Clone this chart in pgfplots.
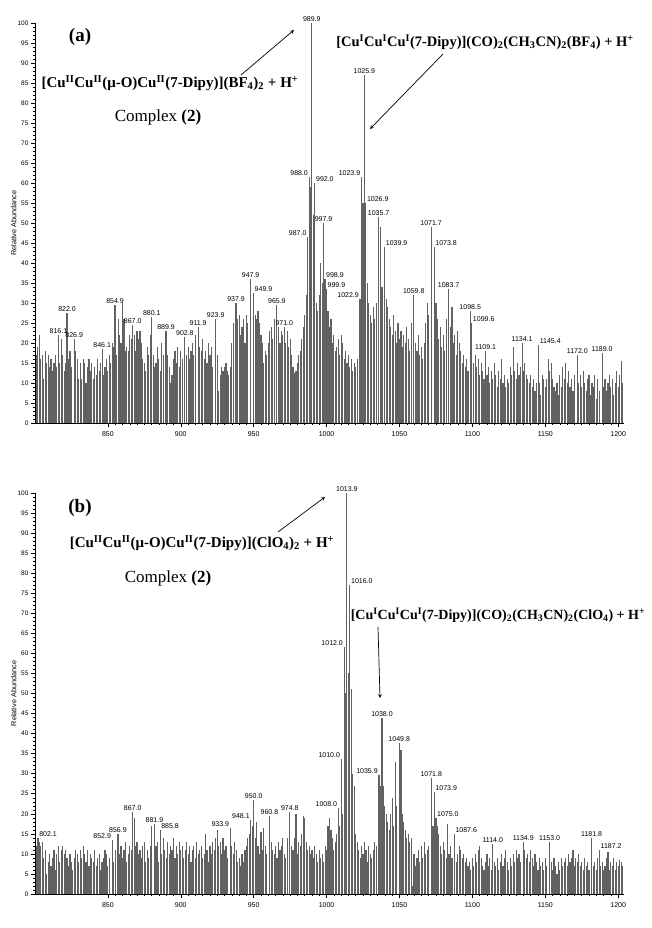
\documentclass[border=0pt]{standalone}
\usepackage{fontspec}
\setmainfont{Liberation Serif}
\setsansfont{Liberation Sans}
\usepackage{pgfplots}
\pgfplotsset{compat=1.18}
\usepackage{pgfplotstable}

\pgfplotstableread{
x y
801 17
802 19
803 22
804 16
805 17
806 11
807 18
808 15
809 17
810 14
811 16
812 13
813 15
814 17
815 14
816.1 22
817 15
818 21
819 17
820 13
821 15
822.0 27.5
823 16
824 18
825 14
826.9 21
828 18
829 16
830 11
831 15
832 11
833 16
834 15
835 10
836 14
837 16
838 13
839 15
840 11
841 14
842 12
843 16
844 13
845 15
846.1 18.5
847 12
848 14
849 16
850 13
851 17
852 15
853 20
854 19
854.9 29.5
856 17
857 26
858 22
859 20
860 30
861 26
862 18
863 19
864 18
865 22
866 21
867.0 24.5
868 22
869 18
870 23
871 21
872 23
873 20
874 16
875 15
876 13
877 19
878 17
879 22
880.1 26.5
881 17
882 14
883 15
884 19
885 16
886 13
887 20
888 17
889.9 23
891 17
892 14
893 10
894 12
895 16
896 18
897 15
898 19
899 14
900 18
901 16
902.8 21.5
904 17
905 19
906 16
907 18
908 20
909 17
910 22
911.9 24
913 19
914 18
915 21
916 16
917 18
918 15
919 20
920 17
921 19
922 14
923.9 26
925 17
926 8
927 12
928 14
929 13
930 14
931 15
932 13
933 12
934 14
935 20
936 25
937.9 30
939 26
940 27
941 22
942 24
943 26
944 20
945 27
946 25
947.9 36
949.9 32.5
951 27
952 26
953 28
954 25
955 22
956 20
957 15
958 18
959 17
960 20
961 23
962 24
963 21
964 26
965.9 29.5
967 24
968 20
969 23
970 22
971.0 24
972 20
973 23
974 19
975 21
976 17
977 14
978 12.5
979 13
980 15
981 17
982 18
983 21
984 24
985 27
986 32
987.0 46.5
988.0 61.5
988.9 59
989.9 100
991 52
992.0 60
993 30
994 28
995 32
996 40
997 35
997.9 50
998.9 36
999.9 33.5
1001 28
1002 24
1003 26
1004 20
1005 22
1006 18
1007 19
1008 21
1009 17
1010 22
1011 20
1012 16
1013 18
1014 15
1015 17
1016 14
1017 16
1018 13
1019 15
1020 14
1021 16
1022.9 31
1023.9 61.5
1025 55
1025.9 87
1026.9 55
1028 35
1029 30
1030 27
1031 25
1032 29
1033 26
1034 30
1035.7 51.5
1037 49
1038 34
1039.9 44
1041 31
1042 29
1043 26
1044 24
1045 22
1046 27
1047 23
1048 20
1049 25
1050 21
1051 23
1052 19
1053 22
1054 20
1055 24
1056 21
1057 18
1058 25
1059.8 32
1061 20
1062 18
1063 22
1064 17
1065 19
1066 16
1067 20
1068 25
1069 30
1070 27
1071.7 49
1073.8 44
1075 30
1076 26
1077 21
1078 24
1079 19
1080 22
1081 18
1082 26
1083.7 33.5
1085 24
1086 29
1087 20
1088 22
1089 17
1090 23
1091 20
1092 18
1093 15
1094 17
1095 14
1096 16
1097 13
1098.5 28
1099.6 25
1101 15
1102 17
1103 14
1104 16
1105 12
1106 15
1107 13
1108 11
1109.1 18
1110 12
1111 14
1112 10
1113 13
1114 11
1115 15
1116 12
1117 9
1118 13
1119 11
1120 16
1121 10
1122 12
1123 9
1124 11
1125 10
1126 14
1127 12
1128 19
1129 13
1130 11
1131 15
1132 12
1133 14
1134.1 20
1135 13
1136 15
1137 12
1138 11
1139 10
1140 12
1141 9
1142 11
1143 8
1144 10
1145.4 19.5
1146 10
1147 7
1148 12
1149 11
1150 9
1151 11
1152 16
1153 13
1154 15
1155 11
1156 9
1157 8
1158 10
1159 7
1160 12
1161 9
1162 14
1163 11
1164 15
1165 10
1166 13
1167 9
1168 11
1169 8
1170 12
1172.0 17
1173 10
1174 12
1175 9
1176 13
1177 10
1178 8
1179 11
1180 12
1181 7
1182 10
1183 9
1184 12
1185 6
1186 11
1187 8
1189.0 17.5
1190 9
1191 11
1192 8
1193 10
1194 12
1195 9
1196 11
1197 7
1198 10
1199 13
1200 9
1201 12
1202 15.5
1203 10
}\specA

\pgfplotstableread{
x y
801 12
802.1 14
803 13
804 12
805 13
806 9
807 11
808 5
809 8
810 10
811 7
812 9
813 11
814 6
815 10
816 12
817 8
818 11
819 12
820 10
821 11
822 9
823 7
824 10
825 8
826 6
827 9
828 11
829 10
830 8
831 11
832 9
833 12
834 10
835 8
836 11
837 7
838 10
839 9
840 8
841 11
842 7
843 9
844 10
845 6
846 8
847 9
848 11
849 10
850 7
851 9
852.9 13.5
854 8
855 11
856.9 15
858 10
859 12
860 9
861 11
862 13
863 8
864 10
865 12
866 11
867.0 20.5
868 19
869 12
870 13
871 10
872 11
873 9
874 12
875 13
876 8
877 11
878 9
879 12
880 17
881.9 17.5
883 12
884 13
885 8
885.8 16
887 10
888 14
889 11
890 9
891 13
892 10
893 12
894 11
895 14
896 9
897 12
898 10
899 13
900 11
901 12
902 9
903 11
904 13
905 10
906 12
907 8
908 11
909 12
910 9
911 13
912 10
913 11
914 12
915 9
916 10
917 15
918 11
919 8
920 12
921 10
922 13
923 11
924 14
925 16
926 12
927 13
928 10
929 14
930 11
931 12
932 9
933.9 16.5
935 12
936 10
937 13
938 11
939 8
940 9
941 7
942 10
943 8
944 11
945 12
946 14
947 15
948.1 18.5
949 17
950.0 23.5
951 14
952 18
953 12
954 10
955 15.5
956 11
957 16.5
958 12
959 10
960.8 19.5
962 13
963 11
964 10
965 12
966 9
967 13
968 11
969 12
970 14
971 10
972 9
973 14
974.8 20.5
976 12
977 11
978 14
979 20
980 10
981 13
982 12
983 15
984 19.5
985 19
986 13
987 11
988 12
989 10
990 11
991 9
992 12
993 10
994 8
995 11
996 9
997 10
998 8
999 12
1000 11
1001 17
1002 19
1003 16
1004 14
1005 11
1006 13
1007 15
1008.0 21.5
1009 17
1010.0 33.7
1011 20
1012.0 61.7
1013 50
1013.9 100
1015 55
1016.0 77
1017 51
1018 30
1019 27
1020 15
1021 13
1022 11
1023 9
1024 12
1025 10
1026 13
1027 11
1028 8
1029 12
1030 10
1031 9
1032 11
1033 13
1034 12
1035.9 29.7
1037 27
1038.0 44
1039 27
1040 22
1041 20
1042 18
1043 16
1044 20
1045 24
1046 17
1047 33
1048 22
1049.8 37.7
1051 36
1052 20
1053 18
1054 16
1055 14
1056 15
1057 13
1058 14
1059 2
1060 10
1061 7
1062 9
1063 11
1064 8
1065 12
1066 9
1067 13
1068 10
1069 11
1070 12
1071.8 29
1073 17
1073.9 25.5
1075.0 19
1076 17
1077 15
1078 12
1079 10
1080 13
1081 11
1082 9
1083 17.5
1084 10
1085 12
1086 9
1087.6 15
1089 8
1090 10
1091 12
1092 11
1093 9
1094 10
1095 8
1096 9
1097 7
1098 8
1099 6
1100 9
1101 7
1102 10
1103 8
1104 11
1105 12
1106 9
1107 7
1108 6
1109 8
1110 10
1111 7
1112 9
1113 6
1114.0 12.5
1115 8
1116 7
1117 9
1118 6
1119 8
1120 10
1121 7
1122 9
1123 11
1124 8
1125 6
1126 9
1127 7
1128 10
1129 8
1130 11
1131 9
1132 10
1133 8
1134.9 13
1136 11
1137 9
1138 10
1139 8
1140 11
1141 9
1142 7
1143 10
1144 8
1145 6
1146 9
1147 7
1148 8
1149 6
1150 9
1151 7
1153.0 13
1154 8
1155 6
1156 9
1157 7
1158 5
1159 8
1160 6
1161 9
1162 7
1163 8
1164 9
1165 7
1166 10
1167 8
1168 9
1169 11
1170 7
1171 9
1172 8
1173 10
1174 7
1175 8
1176 6
1177 9
1178 7
1179 8
1180 6
1181.8 14
1183 7
1184 8
1185 6
1186 9
1187.2 11
1188 7
1189 8
1190 6
1191 7
1192 9
1193 10.5
1194 6
1195 8
1196 7
1197 9
1198 6
1199 8
1200 7
1201 8.5
1202 8
1203 7
}\specB

\pgfplotsset{
  ms/.style={
    scale only axis, width=589pt,
    xmin=800, xmax=1204, ymin=0, ymax=100,
    axis lines*=left,
    xtick={850,900,...,1200}, ytick={0,5,...,100},
    minor x tick num=9, minor y tick num=4,
    tick align=outside, major tick length=4pt, minor tick length=2pt,
    xticklabel style={font=\sffamily\fontsize{7}{7}\selectfont, yshift=-1pt},
    yticklabel style={font=\sffamily\fontsize{6.5}{6.5}\selectfont, xshift=1pt},
    /pgf/number format/assume math mode=true,
    /pgf/number format/set thousands separator={},
    ylabel={Relative Abundance},
    ylabel style={font=\sffamily\fontsize{7.3}{8}\selectfont, at={(axis description cs:-0.036,0.5)}, anchor=center},
    clip=false,
    axis line style={black, line width=0.6pt},
    tick style={black, line width=0.5pt},
  },
}
\tikzset{pklab/.style={font=\sffamily\fontsize{7}{7}\selectfont, inner sep=1pt}}
\newcommand\pk[3][south]{\node[pklab,anchor=#1] at (axis cs:#2,#3) {#2};}

\begin{document}
\begin{tikzpicture}
\useasboundingbox (0,0) rectangle (651pt,928pt);

% ---------------- panel (a)
\begin{axis}[ms, height=400pt, at={(35pt,505pt)}, anchor=south west]
\addplot[ycomb, draw=black!62, line width=1.15pt, mark=none] table {\specA};
\pk{989.9}{100}
\pk{1025.9}{87}
\pk[south east]{988.0}{61.5}
\pk[south west]{992.0}{60}
\pk[south east]{987.0}{46.5}
\pk{997.9}{50}
\pk[south west]{998.9}{36}
\pk[south west]{999.9}{33.5}
\pk[south east]{1022.9}{31}
\pk[south east]{1023.9}{61.5}
\pk[south west]{1026.9}{55}
\pk{1035.7}{51.5}
\pk[south west]{1039.9}{44}
\pk{1059.8}{32}
\pk{1071.7}{49}
\pk[south west]{1073.8}{44}
\pk{1083.7}{33.5}
\pk{1098.5}{28}
\pk[south west]{1099.6}{25}
\pk{1109.1}{18}
\pk{1134.1}{20}
\pk[south west]{1145.4}{19.5}
\pk{1172.0}{17}
\pk{1189.0}{17.5}
\pk{947.9}{36}
\pk[south west]{949.9}{32.5}
\pk{937.9}{30}
\pk{965.9}{29.5}
\pk{971.0}{24}
\pk{923.9}{26}
\pk{911.9}{24}
\pk{902.8}{21.5}
\pk{889.9}{23}
\pk{880.1}{26.5}
\pk{867.0}{24.5}
\pk{854.9}{29.5}
\pk{846.1}{18.5}
\pk{826.9}{21}
\pk{822.0}{27.5}
\pk{816.1}{22}
\end{axis}

% ---------------- panel (b)
\begin{axis}[ms, height=401pt, at={(35pt,34pt)}, anchor=south west]
\addplot[ycomb, draw=black!62, line width=1.15pt, mark=none] table {\specB};
\pk{1013.9}{100}
\pk[south west]{1016.0}{77}
\pk[south east]{1012.0}{61.7}
\pk[south east]{1010.0}{33.7}
\pk[south east]{1008.0}{21.5}
\pk{1038.0}{44}
\pk{1049.8}{37.7}
\pk[south east]{1035.9}{29.7}
\pk{1071.8}{29}
\pk[south west]{1073.9}{25.5}
\pk[south west]{1075.0}{19}
\pk[south west]{1087.6}{15}
\pk{1114.0}{12.5}
\pk{1134.9}{13}
\pk{1153.0}{13}
\pk{1181.8}{14}
\pk[south west]{1187.2}{11}
\pk{974.8}{20.5}
\pk{960.8}{19.5}
\pk{950.0}{23.5}
\pk[south east]{948.1}{18.5}
\pk[south east]{933.9}{16.5}
\pk[south west]{885.8}{16}
\pk{881.9}{17.5}
\pk{867.0}{20.5}
\pk{856.9}{15}
\pk[south east]{852.9}{13.5}
\pk[south west]{802.1}{14}
\end{axis}

% ---------------- annotations (a)
\node[font=\bfseries\fontsize{19}{19}\selectfont] at (80pt,891pt) {(a)};
\node[font=\bfseries\fontsize{15}{15}\selectfont] at (170pt,845pt)
  {[Cu\textsuperscript{II}Cu\textsuperscript{II}(μ-O)Cu\textsuperscript{II}(7-Dipy)](BF\textsubscript{4})\textsubscript{2} + H\textsuperscript{+}};
\node[font=\fontsize{17}{17}\selectfont] at (158pt,811pt) {Complex \textbf{(2)}};
\draw[-stealth, line width=0.7pt] (241pt,853pt) -- (294pt,898pt);
\node[font=\bfseries\fontsize{14.5}{14.5}\selectfont] at (485pt,886pt)
  {[Cu\textsuperscript{I}Cu\textsuperscript{I}Cu\textsuperscript{I}(7-Dipy)](CO)\textsubscript{2}(CH\textsubscript{3}CN)\textsubscript{2}(BF\textsubscript{4}) + H\textsuperscript{+}};
\draw[-stealth, line width=0.7pt] (443pt,874pt) -- (370pt,799pt);

% ---------------- annotations (b)
\node[font=\bfseries\fontsize{19}{19}\selectfont] at (80pt,420pt) {(b)};
\node[font=\bfseries\fontsize{15}{15}\selectfont] at (202pt,385pt)
  {[Cu\textsuperscript{II}Cu\textsuperscript{II}(μ-O)Cu\textsuperscript{II}(7-Dipy)](ClO\textsubscript{4})\textsubscript{2} + H\textsuperscript{+}};
\node[font=\fontsize{17}{17}\selectfont] at (168pt,350pt) {Complex \textbf{(2)}};
\draw[-stealth, line width=0.7pt] (278pt,396pt) -- (325pt,431pt);
\node[font=\bfseries\fontsize{14}{14}\selectfont] at (498pt,313pt)
  {[Cu\textsuperscript{I}Cu\textsuperscript{I}Cu\textsuperscript{I}(7-Dipy)](CO)\textsubscript{2}(CH\textsubscript{3}CN)\textsubscript{2}(ClO\textsubscript{4}) + H\textsuperscript{+}};
\draw[-stealth, line width=0.7pt] (378pt,301pt) -- (380pt,230pt);
\end{tikzpicture}
\end{document}
